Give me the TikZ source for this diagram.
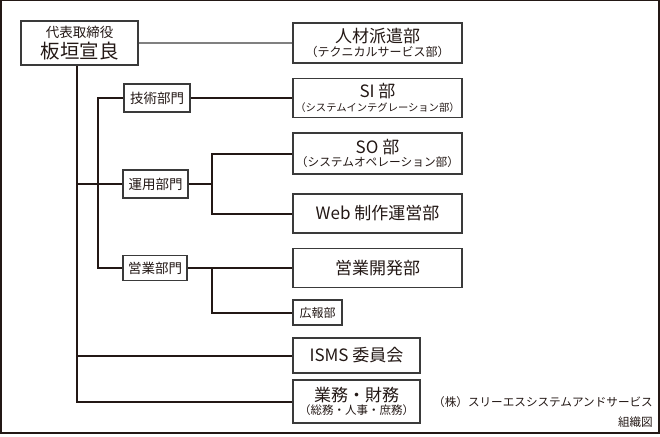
\documentclass[tikz,border=0pt]{standalone}
\usepackage{fontspec}
\setmainfont{Noto Sans CJK JP}
\definecolor{ink}{HTML}{231815}
\definecolor{boxline}{HTML}{3A3A3A}
\tikzset{
  box/.style={draw=boxline, line width=1.3pt, fill=white, text=ink, inner sep=0pt, align=center, anchor=center},
  conn/.style={draw=ink, line width=2pt},
  ceoconn/.style={draw=black!50, line width=2pt},
  big/.style={font=\fontsize{17}{19}\selectfont},
  mid/.style={font=\fontsize{13.5}{15}\selectfont},
  note/.style={text=ink, font=\fontsize{11.6}{13}\selectfont, inner sep=0pt, anchor=east}
}
\newcommand{\smalltxt}[2][11.5]{{\fontsize{#1}{12}\selectfont #2}}
\newcommand{\bigtxt}[1]{{\fontsize{17}{17}\selectfont #1}}
\begin{document}
\begin{tikzpicture}[x=1pt,y=-1pt]
\useasboundingbox (0,0) rectangle (660,436);
\draw[ink, line width=1.5pt] (0.75,0.75) rectangle (659,433);
\coordinate (trunkx) at (77,0);
\coordinate (branchx) at (97.5,0);
\coordinate (forkx) at (212,0);

% nodes
\node[box, minimum width=117pt, minimum height=44pt] (ceo) at (79.5,43)
  {{\fontsize{13.5}{14}\selectfont 代表取締役}\\[2pt]{\fontsize{19.5}{20}\selectfont 板垣宣良}};
\node[box, minimum width=169pt, minimum height=40pt] (jinzai) at (377.5,43)
  {\bigtxt{人材派遣部}\\[1.5pt]\smalltxt[12]{（テクニカルサービス部）}};
\node[box, mid, minimum width=66pt, minimum height=28pt] (gijutsu) at (157,98) {技術部門};
\node[box, minimum width=169pt, minimum height=39pt] (si) at (377.5,98)
  {\bigtxt{SI 部}\\[1.5pt]\smalltxt[10.3]{（システムインテグレーション部）}};
\node[box, mid, minimum width=65pt, minimum height=28pt] (unyo) at (155.5,184) {運用部門};
\node[box, minimum width=169pt, minimum height=41pt] (so) at (377.5,153.5)
  {\bigtxt{SO 部}\\[1.5pt]\smalltxt[11.7]{（システムオペレーション部）}};
\node[box, big, minimum width=169pt, minimum height=39pt] (web) at (377.5,213.5) {Web 制作運営部};
\node[box, mid, minimum width=64pt, minimum height=25pt] (eigyo) at (155,268) {営業部門};
\node[box, big, minimum width=169pt, minimum height=39pt] (kaihatsu) at (377.5,268) {営業開発部};
\node[box, font=\fontsize{12}{14}\selectfont, minimum width=49pt, minimum height=25pt] (koho) at (317.5,312.5) {広報部};
\node[box, big, minimum width=127pt, minimum height=35pt] (isms) at (356.5,355.5) {ISMS 委員会};
\node[box, minimum width=127pt, minimum height=43pt] (gyomu) at (356.5,401.5)
  {\bigtxt{業務・財務}\\[1.5pt]\smalltxt[11.5]{（総務・人事・庶務）}};
\node[note] (company) at (653,402) {（株）スリーエスシステムアンドサービス};
\node[note] (title) at (653,422) {組織図};

% connectors
\draw[ceoconn] (ceo.east) -- (jinzai.west);
\draw[conn] (ceo.south -| trunkx) |- (gyomu.west);
\draw[conn] (trunkx |- isms.west) -- (isms.west);
\draw[conn] (trunkx |- unyo.west) -- (unyo.west);
\draw[conn] (gijutsu.west) -- (branchx |- gijutsu.west) |- (eigyo.west);
\draw[conn] (gijutsu.east) -- (si.west);
\draw[conn] (unyo.east) -- (forkx |- unyo.east);
\draw[conn] (so.west) -| (forkx |- unyo.east) |- (web.west);
\draw[conn] (eigyo.east) -- (kaihatsu.west);
\draw[conn] (forkx |- eigyo.east) |- (koho.west);
\end{tikzpicture}
\end{document}
